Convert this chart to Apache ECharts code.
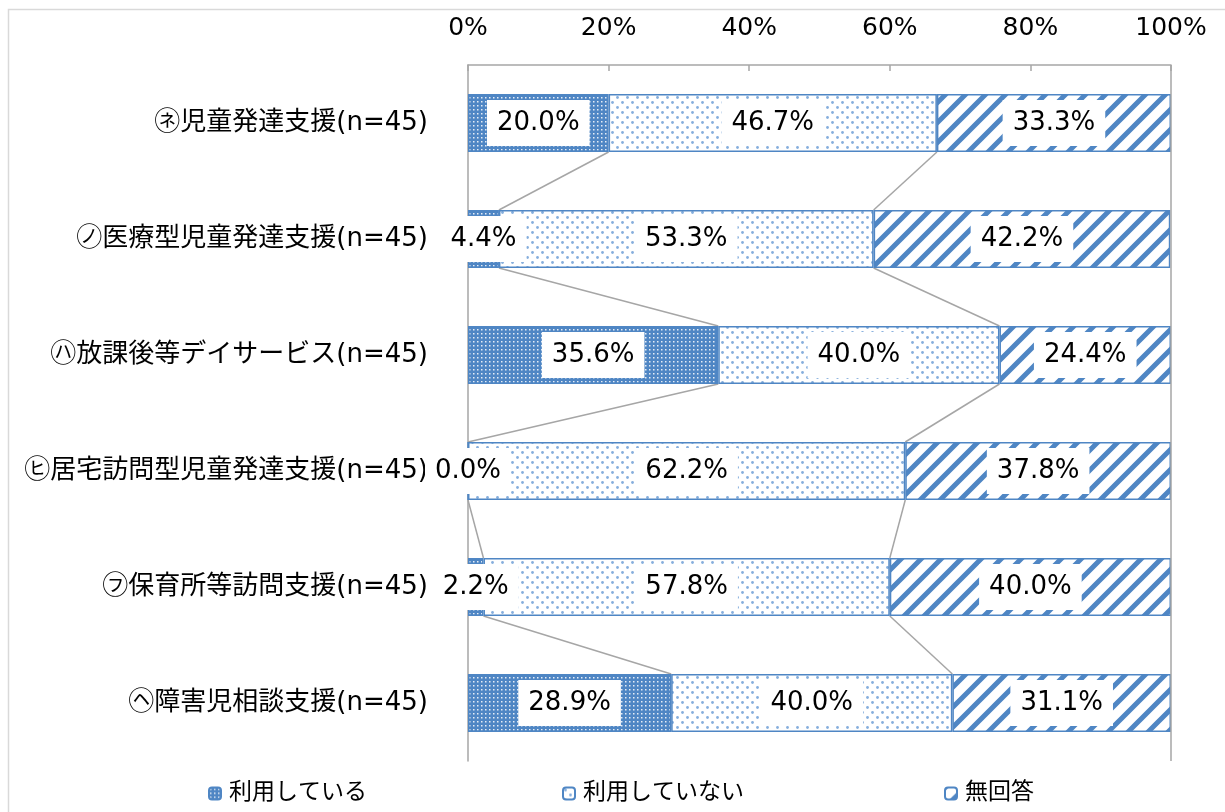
<!DOCTYPE html>
<html>
<head>
<meta charset="utf-8">
<script src="https://cdn.jsdelivr.net/npm/echarts@6/dist/echarts.min.js"></script>
<style>
  html, body { margin: 0; padding: 0; background: #fff; }
  #chart { width: 1225px; height: 812px; }
</style>
</head>
<body>
<div id="chart"></div>
<script>
// Service categories (top to bottom)
const categories = [
  '㋧児童発達支援(n=45)',
  '㋨医療型児童発達支援(n=45)',
  '㋩放課後等デイサービス(n=45)',
  '㋪居宅訪問型児童発達支援(n=45)',
  '㋫保育所等訪問支援(n=45)',
  '㋬障害児相談支援(n=45)'
];
const seriesNames = ['利用している', '利用していない', '無回答'];
// Shares in percent
const usingValues    = [20.0, 4.4, 35.6, 0.0, 2.2, 28.9];
const notUsingValues = [46.7, 53.3, 40.0, 62.2, 57.8, 40.0];
const noAnswerValues = [33.3, 42.2, 24.4, 37.8, 40.0, 31.1];
const axisTicks = [0, 20, 40, 60, 80, 100];

const BLUE = '#4F86C4';
const FONT = "'DejaVu Sans', 'Noto Sans CJK JP', sans-serif";

// Fill patterns
function makeTile(w, h, draw) {
  const c = document.createElement('canvas');
  c.width = w; c.height = h;
  draw(c.getContext('2d'));
  return c;
}
const densePattern = makeTile(4, 4, ctx => {
  ctx.fillStyle = BLUE; ctx.fillRect(0, 0, 4, 4);
  ctx.fillStyle = 'rgba(255,255,255,0.85)';
  ctx.fillRect(1, 1, 1.5, 1.5);
});
const sparsePattern = makeTile(10, 10, ctx => {
  ctx.fillStyle = '#fff'; ctx.fillRect(0, 0, 10, 10);
  ctx.fillStyle = '#86AEDD';
  ctx.beginPath(); ctx.arc(2.5, 2.5, 1.4, 0, Math.PI * 2); ctx.fill();
  ctx.beginPath(); ctx.arc(7.5, 7.5, 1.4, 0, Math.PI * 2); ctx.fill();
});
const stripePattern = makeTile(20, 20, ctx => {
  ctx.fillStyle = '#fff'; ctx.fillRect(0, 0, 20, 20);
  ctx.strokeStyle = BLUE; ctx.lineWidth = 5;
  ctx.beginPath();
  ctx.moveTo(-5, 25); ctx.lineTo(25, -5);
  ctx.moveTo(-15, 15); ctx.lineTo(15, -15);
  ctx.moveTo(5, 35); ctx.lineTo(35, 5);
  ctx.stroke();
});
const patterns = [densePattern, sparsePattern, stripePattern];
const valueSets = [usingValues, notUsingValues, noAnswerValues];

const barSeries = seriesNames.map((name, k) => ({
  name,
  type: 'bar',
  stack: 'total',
  barWidth: '50%',
  data: valueSets[k],
  itemStyle: {
    color: { image: patterns[k], repeat: 'repeat' },
    borderColor: BLUE,
    borderWidth: 1.5
  },
  label: {
    show: true,
    position: 'inside',
    formatter: p => p.value.toFixed(1) + '%',
    color: '#000',
    fontFamily: FONT,
    fontSize: 26,
    backgroundColor: '#fff',
    padding: [10, 10]
  },
  emphasis: { disabled: true },
  z: 3
}));

// Right-hand boundary line at 100%
barSeries[0].markLine = {
  silent: true,
  symbol: 'none',
  label: { show: false },
  lineStyle: { color: '#A6A6A6', width: 1.5, type: 'solid' },
  data: [{ xAxis: axisTicks[axisTicks.length - 1] }]
};

// Connector lines between cumulative boundaries of neighbouring bars
const boundaries = [
  usingValues.map(v => v),
  usingValues.map((v, i) => v + notUsingValues[i])
];
const connectorData = [];
boundaries.forEach(cum => {
  for (let i = 0; i < cum.length - 1; i++) {
    connectorData.push([cum[i], i, cum[i + 1], i + 1]);
  }
});

const connectorSeries = {
  type: 'custom',
  name: 'connectors',
  silent: true,
  z: 1,
  encode: { x: [0, 2], y: [1, 3] },
  data: connectorData,
  renderItem: (params, api) => {
    const a = api.coord([api.value(0), api.value(1)]);
    const b = api.coord([api.value(2), api.value(3)]);
    const half = api.size([0, 1])[1] * 0.25;
    return {
      type: 'line',
      shape: { x1: a[0], y1: a[1] + half, x2: b[0], y2: b[1] - half },
      style: { stroke: '#A6A6A6', lineWidth: 1.5 }
    };
  }
};

const legendPos = [203, 557, 939];
const chart = echarts.init(document.getElementById('chart'));
chart.setOption({
  animation: false,
  backgroundColor: '#fff',
  graphic: [{
    type: 'rect',
    shape: { x: 8.5, y: 9.5, width: 1230, height: 830 },
    style: { fill: 'none', stroke: '#D9D9D9', lineWidth: 1.5 },
    silent: true
  }],
  grid: { left: 468, right: 54, top: 65, bottom: 51 },
  xAxis: {
    type: 'value',
    position: 'top',
    min: axisTicks[0],
    max: axisTicks[axisTicks.length - 1],
    interval: axisTicks[1] - axisTicks[0],
    axisLine: { show: true, lineStyle: { color: '#A6A6A6', width: 1.5 } },
    axisTick: { show: true, inside: true, length: 6, lineStyle: { color: '#A6A6A6', width: 1.5 } },
    axisLabel: {
      formatter: '{value}%',
      color: '#000',
      fontFamily: FONT,
      fontSize: 25,
      margin: 24
    },
    splitLine: { show: false }
  },
  yAxis: {
    type: 'category',
    inverse: true,
    data: categories,
    axisLine: { show: true, lineStyle: { color: '#A6A6A6', width: 1.5 } },
    axisTick: { show: false },
    axisLabel: {
      color: '#000',
      fontFamily: FONT,
      fontSize: 26,
      margin: 40
    }
  },
  legend: seriesNames.map((name, k) => ({
    data: [name],
    left: legendPos[k],
    top: 777,
    itemWidth: 12,
    itemHeight: 12,
    itemGap: 0,
    selectedMode: false,
    textStyle: { fontFamily: FONT, fontSize: 23, color: '#000', padding: [0, 0, 0, 3] }
  })),
  series: [...barSeries, connectorSeries]
});
</script>
</body>
</html>
